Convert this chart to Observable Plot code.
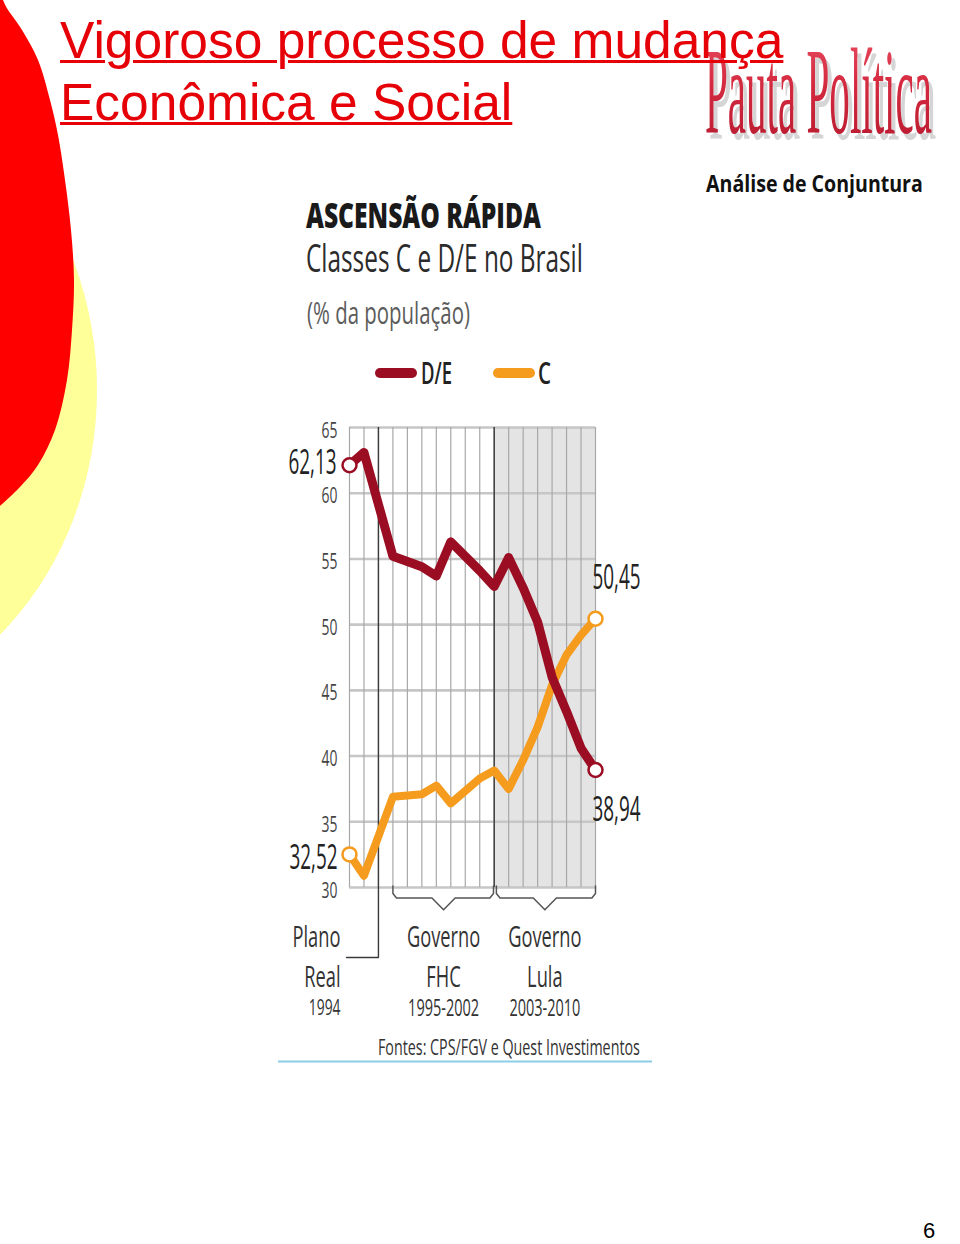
<!DOCTYPE html>
<html><head><meta charset="utf-8">
<script src="https://cdn.jsdelivr.net/npm/d3@7"></script>
<script src="https://cdn.jsdelivr.net/npm/@observablehq/plot@0.6"></script>
<style>
html,body{margin:0;padding:0;background:#fff;}
#page{position:relative;width:960px;height:1244px;overflow:hidden;background:#fff;}
#deco{position:absolute;left:0;top:0;}
#chart{position:absolute;left:278px;top:405px;}
#title{position:absolute;left:60px;top:9px;font-family:"Liberation Sans",Arial,sans-serif;font-size:51.5px;line-height:62px;color:#e60008;text-decoration:underline;text-decoration-thickness:3px;white-space:nowrap;}
</style></head><body>
<div id="page">
<svg id="deco" width="960" height="1244"></svg>
<div id="chart"></div>
<div id="title">Vigoroso processo de mudança<br>Econômica e Social</div>
</div>
<script>
// ---------- data ----------
const years = [1992, 1993, 1995, 1996, 1997, 1998, 1999, 2001, 2002, 2003, 2004, 2005, 2006, 2007, 2008, 2009];
const deValues = [62.13, 63.1, 55.2, 54.8, 54.4, 53.7, 56.3, 54.1, 52.9, 55.1, 52.8, 50.2, 46.0, 43.4, 40.6, 38.94];
const cValues  = [32.52, 30.9, 36.9, 37.0, 37.1, 37.75, 36.4, 38.3, 38.9, 37.5, 39.7, 42.2, 45.4, 47.7, 49.2, 50.45];
const gridYears = [1992, 1993, 1994, 1995, 1996, 1997, 1998, 1999, 2000, 2001, 2002, 2003, 2004, 2005, 2006, 2007, 2008, 2009];
const yTicks = [30, 35, 40, 45, 50, 55, 60, 65];
const seriesNames = ["D/E", "C"];
const seriesColors = ["#9b0d22", "#f59b1e"];
const periods = [
  {title: "Governo", name: "FHC", span: "1995-2002", start: 1995, end: 2001.95, mid: 1998.5},
  {title: "Governo", name: "Lula", span: "2003-2010", start: 2002.15, end: 2009, mid: 2005.5}
];
const planoReal = {title: "Plano", name: "Real", span: "1994", year: 1994};
const lulaStart = 2002;

// ---------- derived tables ----------
const rows = (name, vals) => years.map((year, i) => ({series: name, year, value: vals[i]}));
const deRows = rows("D/E", deValues);
const cRows = rows("C", cValues);
const fmt = v => v.toFixed(2).replace(".", ",");
const firsts = [
  {...deRows[0], color: seriesColors[0]},
  {...cRows[0], color: seriesColors[1]}
];
const lastC = [{...cRows[cRows.length - 1], color: seriesColors[1]}];
const lastDE = [{...deRows[deRows.length - 1], color: seriesColors[0]}];
const ends = [...firsts, ...lastC, ...lastDE];
const bracketPts = periods.flatMap((p, i) => [
  {k: i, x: p.start, y: 30.12}, {k: i, x: p.start, y: 29.55}, {k: i, x: p.start + 0.25, y: 29.2},
  {k: i, x: p.mid - 0.8, y: 29.2}, {k: i, x: p.mid, y: 28.3}, {k: i, x: p.mid + 0.8, y: 29.2},
  {k: i, x: p.end - 0.25, y: 29.2}, {k: i, x: p.end, y: 29.55}, {k: i, x: p.end, y: 30.12}
]);
const lblY = [26.2, 23.15, 20.8];
const lblSize = [29, 29, 23];
const periodText = periods.flatMap(p => [p.title, p.name, p.span].map((t, j) => ({x: p.mid, y: lblY[j], t, fs: lblSize[j]})));
const planoText = [planoReal.title, planoReal.name, planoReal.span].map((t, j) => ({x: 1992, y: lblY[j], t, fs: lblSize[j] - (j === 2 ? 1 : 0)}));

// ---------- plot ----------
const endText = {x: "year", y: "value", text: d => fmt(d.value), fontSize: 35, fontWeight: 500, fill: "#222"};
const chart = Plot.plot({
  width: 374, height: 625,
  marginLeft: 71, marginRight: 57, marginTop: 22, marginBottom: 143,
  x: {domain: [1992, 2009], axis: null},
  y: {domain: [30, 65], axis: null},
  style: {fontFamily: "'Open Sans', sans-serif", color: "#333", background: "transparent", overflow: "visible"},
  marks: [
    Plot.rect([{a: lulaStart, b: 2009}], {x1: "a", x2: "b", y1: 30, y2: 65, fill: "#e4e4e4"}),
    Plot.ruleY(yTicks, {stroke: "#c6c6c6", strokeWidth: 2.6}),
    Plot.ruleX(gridYears, {y1: 30, y2: 65, stroke: "#a8a8a8", strokeWidth: 1.2}),
    Plot.ruleX([lulaStart], {y1: 30, y2: 65, stroke: "#3a3a3a", strokeWidth: 1.4}),
    Plot.ruleX([planoReal.year], {y1: 24.67, y2: 65, stroke: "#3a3a3a", strokeWidth: 1.4}),
    Plot.line([{x: 1991.8, y: 24.67}, {x: planoReal.year, y: 24.67}], {x: "x", y: "y", stroke: "#3a3a3a", strokeWidth: 1.4}),
    Plot.line(bracketPts, {x: "x", y: "y", z: "k", stroke: "#555", strokeWidth: 1.5, curve: "linear"}),
    Plot.line(cRows, {x: "year", y: "value", stroke: seriesColors[1], strokeWidth: 8}),
    Plot.line(deRows, {x: "year", y: "value", stroke: seriesColors[0], strokeWidth: 9}),
    Plot.dot(ends, {x: "year", y: "value", r: 7, fill: "white", stroke: "color", strokeWidth: 2.5}),
    Plot.text(firsts.slice(0, 1), {...endText, textAnchor: "end", dx: -13, dy: -2}),
    Plot.text(firsts.slice(1), {...endText, textAnchor: "end", dx: -12, dy: 3}),
    Plot.text(lastC, {...endText, textAnchor: "start", dx: -3, dy: -41}),
    Plot.text(lastDE, {...endText, textAnchor: "start", dx: -3, dy: 40}),
    Plot.text(yTicks, {x: 1992, y: d => d, text: d => String(d), textAnchor: "end", dx: -12, dy: 3, fontSize: 22, fill: "#444"}),
    Plot.text(periodText, {x: "x", y: "y", text: "t", fontSize: "fs", textAnchor: "middle", fill: "#333"}),
    Plot.text(planoText, {x: "x", y: "y", text: "t", fontSize: "fs", textAnchor: "end", dx: -9, fill: "#333"})
  ]
});
document.getElementById("chart").appendChild(chart);

// condense chart text (narrow newspaper face)
chart.querySelectorAll("text").forEach(t => {
  const fs = parseFloat(getComputedStyle(t).fontSize);
  const f = fs >= 30 ? 0.54 : 0.63;
  const w = t.getComputedTextLength();
  if (w > 0) { t.setAttribute("textLength", (w * f).toFixed(1)); t.setAttribute("lengthAdjust", "spacingAndGlyphs"); }
});

// ---------- decorations & headings ----------
const deco = d3.select("#deco");
const defs = deco.append("defs");
const gr = defs.append("linearGradient").attr("id", "lg").attr("x1", 0).attr("y1", 0).attr("x2", 0).attr("y2", 1);
gr.append("stop").attr("offset", "0").attr("stop-color", "#ec5266");
gr.append("stop").attr("offset", "0.45").attr("stop-color", "#d42a40");
gr.append("stop").attr("offset", "1").attr("stop-color", "#b3172c");

deco.append("ellipse").attr("cx", -200).attr("cy", 390).attr("rx", 297).attr("ry", 331).attr("fill", "#ffff99");
const redEdge = [[0, -30], [3, 0], [22, 30], [38, 60], [50, 100], [58, 135], [65, 180], [71, 230], [74, 280], [72, 330], [67, 380], [55, 430], [38, 465], [20, 487], [0, 506]];
deco.append("path")
  .attr("d", d3.line().curve(d3.curveCatmullRom)(redEdge) + "L-20,506L-20,-30Z")
  .attr("fill", "#ff0000");

function txt(o) {
  const t = deco.append("text")
    .attr("x", 0).attr("y", 0)
    .attr("font-family", o.family || "'Open Sans', sans-serif")
    .attr("font-size", o.size)
    .attr("font-weight", o.weight || 400)
    .attr("fill", o.fill || "#222")
    .text(o.text);
  const w = t.node().getComputedTextLength();
  const s = o.len ? o.len / w : 1;
  t.attr("transform", `translate(${o.x},${o.y}) scale(${s.toFixed(4)},1)`);
  return t;
}
// logo
txt({x: 709, y: 139, text: "Pauta Política", family: "'Liberation Serif', serif", size: 123, fill: "#c4c4c4", len: 227}).attr("opacity", 0.7);
txt({x: 705, y: 133, text: "Pauta Política", family: "'Liberation Serif', serif", size: 123, fill: "url(#lg)", len: 227});
txt({x: 706, y: 192, text: "Análise de Conjuntura", family: "'Open Sans', sans-serif", size: 24, weight: 700, fill: "#111", len: 217});

// infographic headings
txt({x: 306, y: 228, text: "ASCENSÃO RÁPIDA", size: 35, weight: 800, fill: "#1a1a1a", len: 235});
txt({x: 306, y: 272, text: "Classes C e D/E no Brasil", size: 39, fill: "#2b2b2b", len: 277});
txt({x: 307, y: 324, text: "(% da população)", size: 31, fill: "#5c5c5c", len: 163});
// legend
const legX = [[380, 412, 421, 31], [498, 530, 538, 13]];
seriesNames.forEach((name, i) => {
  const [a, b, tx, tl] = legX[i];
  deco.append("line").attr("x1", a).attr("x2", b).attr("y1", 373).attr("y2", 373)
    .attr("stroke", seriesColors[i]).attr("stroke-width", 10).attr("stroke-linecap", "round");
  txt({x: tx, y: 384, text: name, size: 31, weight: 600, fill: "#222", len: tl});
});
// source + rule
txt({x: 378, y: 1055, text: "Fontes: CPS/FGV e Quest Investimentos", size: 21, fill: "#333", len: 262});
deco.append("line").attr("x1", 278).attr("x2", 652).attr("y1", 1061.5).attr("y2", 1061.5).attr("stroke", "#8ccde6").attr("stroke-width", 2);
// page number
txt({x: 923, y: 1238, text: "6", family: "'Liberation Sans', sans-serif", size: 22, fill: "#000"});
</script>
</body></html>
